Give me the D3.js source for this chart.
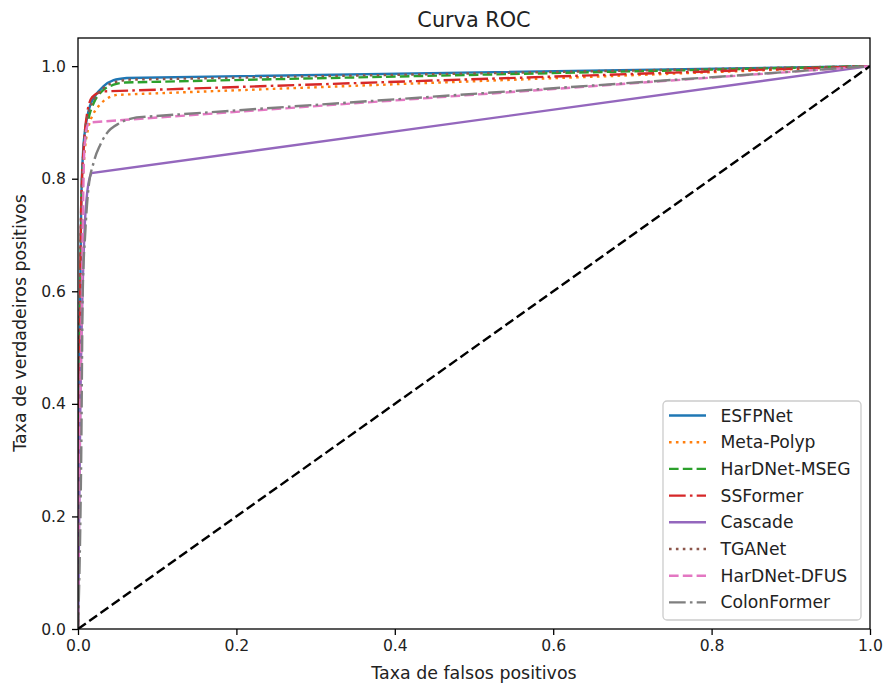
<!DOCTYPE html>
<html>
<head>
  <script src="https://cdnjs.cloudflare.com/ajax/libs/d3/7.8.5/d3.min.js"></script>
  <style>
    body { margin: 0; background: #fff; }
    svg { font-family: "DejaVu Sans", sans-serif; }
  </style>
</head>
<body>
  <svg id="chart" width="885" height="684"></svg>
  <script>
    // model names, in legend order
    var models = ["ESFPNet", "Meta-Polyp", "HarDNet-MSEG", "SSFormer", "Cascade", "TGANet", "HarDNet-DFUS", "ColonFormer"];

    // ROC points per model: [fpr, tpr]
    var esfpnet = [[0,0],[0.002,0.5],[0.004,0.75],[0.0065,0.85],[0.0085,0.882],[0.011,0.905],[0.015,0.929],[0.0215,0.947],[0.032,0.964],[0.045,0.975],[0.0615,0.979],[1,1]];
    var metaPolyp = [[0,0],[0.002,0.45],[0.004,0.7],[0.008,0.84],[0.013,0.89],[0.019,0.914],[0.026,0.929],[0.035,0.941],[0.049,0.949],[1,1]];
    var hardnetMseg = [[0,0],[0.002,0.45],[0.003,0.6],[0.005,0.78],[0.009,0.87],[0.013,0.905],[0.02,0.935],[0.03,0.955],[0.045,0.967],[0.06,0.971],[1,1]];
    var ssformer = [[0,0],[0.002,0.45],[0.004,0.75],[0.008,0.87],[0.012,0.92],[0.018,0.945],[0.03,0.955],[1,1]];
    var cascade = [[0,0],[0.003,0.4],[0.008,0.7],[0.012,0.78],[0.017,0.81],[1,1]];
    var tganet = [[0,0],[0.002,0.5],[0.004,0.74],[0.007,0.85],[0.01,0.895],[0.015,0.925],[0.022,0.945],[0.033,0.962],[0.048,0.972],[0.065,0.976],[1,1]];
    var hardnetDfus = [[0,0],[0.002,0.3],[0.004,0.5],[0.008,0.85],[0.012,0.895],[0.015,0.9],[1,1]];
    var colonformer = [[0,0],[0.004,0.3],[0.006,0.6],[0.009,0.7],[0.013,0.78],[0.02,0.83],[0.028,0.86],[0.036,0.88],[0.053,0.899],[0.074,0.909],[1,1]];
    var chance = [[0,0],[1,1]];

    var xTicks = [0, 0.2, 0.4, 0.6, 0.8, 1.0];
    var yTicks = [0, 0.2, 0.4, 0.6, 0.8, 1.0];

    var colors = ["#1f77b4", "#ff7f0e", "#2ca02c", "#d62728", "#9467bd", "#8c564b", "#e377c2", "#7f7f7f"];
    var dashes = ["none", "2.6,4.3", "9.6,4.2", "16.7,4.2,2.6,4.2", "none", "2.6,4.3", "9.6,4.2", "16.7,4.2,2.6,4.2"];
    var curves = [esfpnet, metaPolyp, hardnetMseg, ssformer, cascade, tganet, hardnetDfus, colonformer];

    var svg = d3.select("#chart");
    var pLeft = 78, pRight = 870, pTop = 38, pBottom = 629;
    var lw = 2.4;

    var x = d3.scaleLinear().domain([0, 1]).range([pLeft, pRight]);
    var y = d3.scaleLinear().domain([0, 1.05]).range([pBottom, pTop]);

    // smooth knee, then a straight run to (1,1)
    var knee = d3.line().x(d => x(d[0])).y(d => y(d[1])).curve(d3.curveMonotoneX);
    function rocPath(c) {
      var last = c[c.length - 1];
      return knee(c.slice(0, -1)) + "L" + x(last[0]) + "," + y(last[1]);
    }

    svg.append("clipPath").attr("id", "clip")
      .append("rect").attr("x", pLeft).attr("y", pTop).attr("width", pRight - pLeft).attr("height", pBottom - pTop);

    var plot = svg.append("g").attr("clip-path", "url(#clip)");

    curves.forEach(function(c, i) {
      plot.append("path")
        .attr("d", rocPath(c))
        .attr("fill", "none")
        .attr("stroke", colors[i])
        .attr("stroke-width", lw)
        .attr("stroke-dasharray", dashes[i]);
    });

    plot.append("path")
      .attr("d", d3.line().x(d => x(d[0])).y(d => y(d[1]))(chance))
      .attr("fill", "none")
      .attr("stroke", "black")
      .attr("stroke-width", lw)
      .attr("stroke-dasharray", "9.6,4.2");

    // axes
    var xAxis = svg.append("g").attr("transform", "translate(0," + pBottom + ")")
      .call(d3.axisBottom(x).tickValues(xTicks).tickFormat(d3.format(".1f")).tickSizeOuter(0).tickSize(6).tickPadding(5));
    var yAxis = svg.append("g").attr("transform", "translate(" + pLeft + ",0)")
      .call(d3.axisLeft(y).tickValues(yTicks).tickFormat(d3.format(".1f")).tickSizeOuter(0).tickSize(6).tickPadding(6));
    [xAxis, yAxis].forEach(function(a) {
      a.select(".domain").remove();
      a.selectAll("text").attr("font-size", 15.6).attr("font-family", "DejaVu Sans").attr("fill", "#222");
      a.selectAll("line").attr("stroke", "#000").attr("stroke-width", 1.3);
    });

    svg.append("rect")
      .attr("x", pLeft).attr("y", pTop).attr("width", pRight - pLeft).attr("height", pBottom - pTop)
      .attr("fill", "none").attr("stroke", "#000").attr("stroke-width", 1.3);

    svg.append("text").attr("x", 474).attr("y", 27)
      .attr("text-anchor", "middle").attr("font-size", 20.8).attr("fill", "#222").text("Curva ROC");
    svg.append("text").attr("x", 474).attr("y", 679)
      .attr("text-anchor", "middle").attr("font-size", 17.4).attr("fill", "#222").text("Taxa de falsos positivos");
    svg.append("text").attr("transform", "translate(26,323) rotate(-90)")
      .attr("text-anchor", "middle").attr("font-size", 17.4).attr("fill", "#222").text("Taxa de verdadeiros positivos");

    // legend
    var lg = svg.append("g").attr("transform", "translate(663,401)");
    lg.append("rect").attr("width", 198).attr("height", 219).attr("rx", 4)
      .attr("fill", "white").attr("fill-opacity", 0.8).attr("stroke", "#ccc").attr("stroke-width", 1.3);
    models.forEach(function(m, i) {
      var yy = 14.5 + i * 26.7;
      lg.append("line").attr("x1", 6).attr("x2", 43).attr("y1", yy).attr("y2", yy)
        .attr("stroke", colors[i]).attr("stroke-width", lw).attr("stroke-dasharray", dashes[i]);
      lg.append("text").attr("x", 57.5).attr("y", yy + 6).attr("font-size", 17.2).attr("fill", "#222").text(m);
    });
  </script>
</body>
</html>
